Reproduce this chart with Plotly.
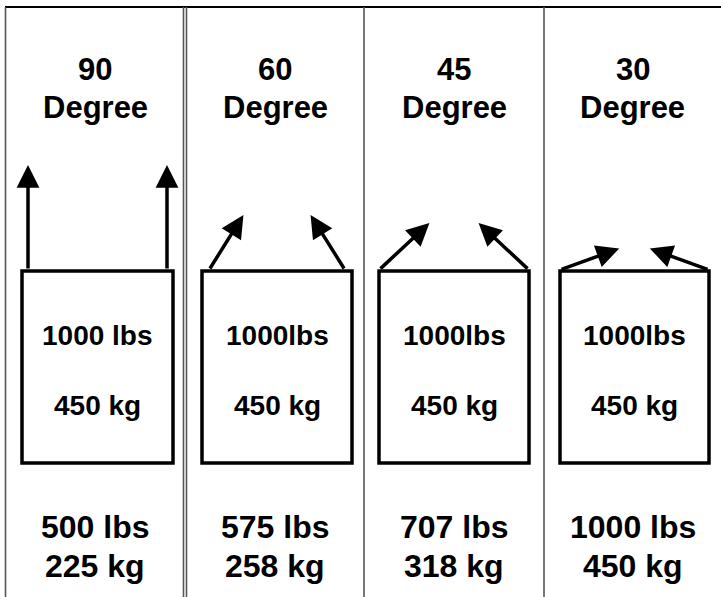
import math
import plotly.graph_objects as go

# ---- data ----
angles = ["90", "60", "45", "30"]
load_lbs = ["1000 lbs", "1000lbs", "1000lbs", "1000lbs"]
load_kg = ["450 kg", "450 kg", "450 kg", "450 kg"]
leg_lbs = ["500 lbs", "575 lbs", "707 lbs", "1000 lbs"]
leg_kg = ["225 kg", "258 kg", "318 kg", "450 kg"]

# ---- layout geometry (pixels) ----
W, H = 721, 597
panel_left = [6, 186, 364, 544]
panel_right = [184, 364, 544, 721]
box_left = [22, 202, 379, 560]
box_right = [173, 352, 529, 709]
box_top, box_bot = 271, 463
arrow_dir = [90, 58, 43, 20]      # drawn direction of the sling arrows (deg)
arrow_len = [105, 65, 69, 63]
arrow_inset = [6, 7, 0, 0]

fig = go.Figure()
shapes = []
annotations = []
LINE = "#555555"

# top border
shapes.append(dict(type="line", x0=5, x1=W, y0=7, y1=7, line=dict(color="black", width=2)))
# left border + dividers
for xd in [5.5, 183.5, 186.5, 364, 544]:
    shapes.append(dict(type="line", x0=xd, x1=xd, y0=7, y1=H, line=dict(color=LINE, width=1.6)))

FAM = "Liberation Sans, Arial, sans-serif"
font_title = dict(family=FAM, size=31, color="black")
font_bottom = dict(family=FAM, size=32, color="black")
font_box = dict(family=FAM, size=28, color="black")

for i in range(4):
    cx = (panel_left[i] + panel_right[i]) / 2
    bcx = (box_left[i] + box_right[i]) / 2
    shapes.append(dict(type="rect", x0=box_left[i], x1=box_right[i], y0=box_top, y1=box_bot,
                       line=dict(color="black", width=3.5), fillcolor="rgba(0,0,0,0)"))
    annotations.append(dict(x=cx, y=69, text="<b>%s</b>" % angles[i], showarrow=False, font=font_title,
                            xanchor="center", yanchor="middle"))
    annotations.append(dict(x=cx, y=107, text="<b>Degree</b>", showarrow=False, font=font_title,
                            xanchor="center", yanchor="middle"))
    annotations.append(dict(x=bcx, y=335, text="<b>%s</b>" % load_lbs[i], showarrow=False, font=font_box,
                            xanchor="center", yanchor="middle"))
    annotations.append(dict(x=bcx, y=405, text="<b>%s</b>" % load_kg[i], showarrow=False, font=font_box,
                            xanchor="center", yanchor="middle"))
    annotations.append(dict(x=cx, y=527, text="<b>%s</b>" % leg_lbs[i], showarrow=False, font=font_bottom,
                            xanchor="center", yanchor="middle"))
    annotations.append(dict(x=cx, y=566, text="<b>%s</b>" % leg_kg[i], showarrow=False, font=font_bottom,
                            xanchor="center", yanchor="middle"))
    a = math.radians(arrow_dir[i])
    L = arrow_len[i]
    for side in (-1, 1):
        if side < 0:
            sx = box_left[i] + arrow_inset[i]
            ex = sx + L * math.cos(a)
        else:
            sx = box_right[i] - arrow_inset[i]
            ex = sx - L * math.cos(a)
        sy = 270
        ey = sy - L * math.sin(a)
        annotations.append(dict(x=ex, y=ey, ax=sx, ay=sy, xref="x", yref="y", axref="x", ayref="y",
                                showarrow=True, arrowhead=2, arrowsize=1.3, arrowwidth=3.5,
                                arrowcolor="black", text=""))

fig.update_layout(
    width=W, height=H, margin=dict(l=0, r=0, t=0, b=0),
    paper_bgcolor="white", plot_bgcolor="white",
    xaxis=dict(range=[0, W], visible=False, fixedrange=True),
    yaxis=dict(range=[H, 0], visible=False, fixedrange=True),
    shapes=shapes, annotations=annotations, showlegend=False,
)
fig.write_html("out.html", config={"displayModeBar": False},
               post_script="document.body.style.margin='0';document.body.style.overflow='hidden';")
